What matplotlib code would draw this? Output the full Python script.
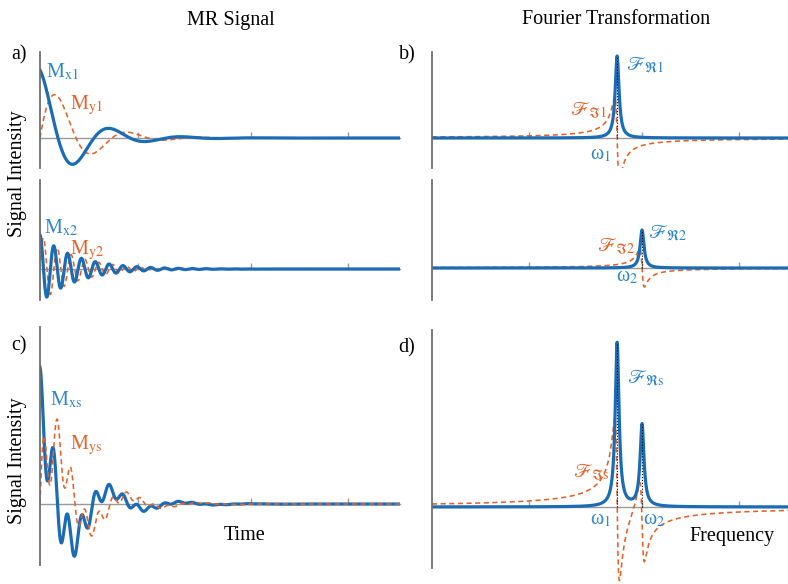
import matplotlib
matplotlib.use("Agg")
import matplotlib.pyplot as plt
import numpy as np

# Free induction decay parameters (time in units of T2)
amp = [1.0, 0.5]          # initial magnetisation of component 1 and 2
freq_t = [0.5, 2.6]       # precession frequency in the time panels
t2 = [1.0, 1.0]           # transverse relaxation time
t_max = 10.0

# Spectrum parameters (frequency axis 0..10)
nu0 = [5.2, 5.9]          # resonance positions omega_1, omega_2
width = [0.065, 0.065]    # half width at half maximum
nu_max = 10.0

time_ticks = [2.72, 5.86, 8.56]
freq_ticks = [2.72, 5.9, 8.62]

blue = "#1a6cb5"
blue_txt = "#2f86cc"
orange = "#e3622a"
grey_axis = "#6e6e6e"
grey_zero = "#9a9a9a"

plt.rcParams["font.family"] = ["Liberation Serif", "DejaVu Serif"]
plt.rcParams["mathtext.fontset"] = "stix"

W, H = 788, 584
fig = plt.figure(figsize=(W / 100, H / 100), dpi=100)


def box(x0, y0, x1, y1):
    return [x0 / W, 1 - y1 / H, (x1 - x0) / W, (y1 - y0) / H]


def style(ax, xlim, ylim, ticks, spine_bounds=None):
    ax.set_xlim(*xlim)
    ax.set_ylim(*ylim)
    for s in ["top", "right"]:
        ax.spines[s].set_visible(False)
    ax.spines["left"].set_color(grey_axis)
    ax.spines["left"].set_linewidth(1.3)
    if spine_bounds is not None:
        ax.spines["left"].set_bounds(*spine_bounds)
    ax.spines["bottom"].set_position(("data", 0))
    ax.spines["bottom"].set_color(grey_zero)
    ax.spines["bottom"].set_linewidth(1.0)
    ax.spines["bottom"].set_zorder(0.5)
    ax.set_yticks([])
    ax.set_xticks(ticks)
    ax.tick_params(axis="x", direction="in", length=4, width=1,
                   color=grey_zero, labelbottom=False)
    ax.patch.set_alpha(0)


t = np.linspace(0, t_max, 3000)
mx = [a * np.cos(2 * np.pi * f * t) * np.exp(-t / T) for a, f, T in zip(amp, freq_t, t2)]
my = [a * np.sin(2 * np.pi * f * t) * np.exp(-t / T) for a, f, T in zip(amp, freq_t, t2)]

nu = np.linspace(0, nu_max, 6000)
re = [a * g**2 / (g**2 + (nu - n0) ** 2) for a, g, n0 in zip(amp, width, nu0)]
im = [-a * g * (nu - n0) / (g**2 + (nu - n0) ** 2) for a, g, n0 in zip(amp, width, nu0)]

lw_b, lw_o = 2.3, 1.15
dash = (0, (3.2, 2.2))
fs = 14.5

# ---- time domain ----
ax_a = fig.add_axes(box(40, 52, 400, 168))
style(ax_a, (0, t_max), (-0.441, 1.265), time_ticks)
ax_a.plot(t, my[0], color=orange, lw=lw_o, ls=dash)
ax_a.plot(t, mx[0], color=blue, lw=lw_b)
ax_a.text(0.17, 0.97, r"M$_{\mathrm{x1}}$", color=blue_txt, fontsize=fs, va="center")
ax_a.text(0.83, 0.49, r"M$_{\mathrm{y1}}$", color=orange, fontsize=fs, va="center")

ax_a2 = fig.add_axes(box(40, 180, 400, 300))
style(ax_a2, (0, t_max), (-0.456, 1.309), time_ticks)
ax_a2.plot(t, my[1], color=orange, lw=lw_o, ls=dash)
ax_a2.plot(t, mx[1], color=blue, lw=lw_b)
ax_a2.text(0.11, 0.60, r"M$_{\mathrm{x2}}$", color=blue_txt, fontsize=fs, va="center")
ax_a2.text(0.83, 0.28, r"M$_{\mathrm{y2}}$", color=orange, fontsize=fs, va="center")

ax_c = fig.add_axes(box(40, 327, 400, 565))
style(ax_c, (0, t_max), (-0.668, 1.939), time_ticks)
ax_c.plot(t, mx[0] + mx[1], color=blue, lw=lw_b)
ax_c.plot(t, my[0] + my[1], color=orange, lw=lw_o, ls=dash)
ax_c.text(0.28, 1.14, r"M$_{\mathrm{xs}}$", color=blue_txt, fontsize=fs, va="center")
ax_c.text(0.83, 0.65, r"M$_{\mathrm{ys}}$", color=orange, fontsize=fs, va="center")

# ---- frequency domain ----
ax_b = fig.add_axes(box(432, 52, 788, 168))
style(ax_b, (0, nu_max), (-0.366, 1.049), freq_ticks)
ax_b.plot(nu, im[0], color=orange, lw=lw_o, ls=dash)
ax_b.plot(nu, re[0], color=blue, lw=lw_b)
ax_b.plot([nu0[0], nu0[0]], [0, amp[0]], color="black", lw=0.8, ls=":")
ax_b.text(5.45, 0.89, r"$\mathscr{F}_{\mathfrak{R}1}$", color=blue_txt, fontsize=fs, va="center")
ax_b.text(3.88, 0.34, r"$\mathscr{F}_{\mathfrak{I}1}$", color=orange, fontsize=fs, va="center")
ax_b.text(4.44, -0.21, r"ω$_1$", color=blue_txt, fontsize=fs, va="center")

ax_b2 = fig.add_axes(box(432, 180, 788, 300))
style(ax_b2, (0, nu_max), (-0.421, 1.158), freq_ticks)
ax_b2.plot(nu, im[1], color=orange, lw=lw_o, ls=dash)
ax_b2.plot(nu, re[1], color=blue, lw=lw_b)
ax_b2.plot([nu0[1], nu0[1]], [0, amp[1]], color="black", lw=0.8, ls=":")
ax_b2.text(6.07, 0.47, r"$\mathscr{F}_{\mathfrak{R}2}$", color=blue_txt, fontsize=fs, va="center")
ax_b2.text(4.63, 0.28, r"$\mathscr{F}_{\mathfrak{I}2}$", color=orange, fontsize=fs, va="center")
ax_b2.text(5.17, -0.12, r"ω$_2$", color=blue_txt, fontsize=fs, va="center")

ax_d = fig.add_axes(box(432, 330, 788, 584))
style(ax_d, (0, nu_max), (-0.47, 1.079), freq_ticks, spine_bounds=(-0.372, 1.079))
re_s = re[0] + re[1]
ax_d.plot(nu, im[0] + im[1], color=orange, lw=lw_o, ls=dash)
ax_d.plot(nu, re_s, color=blue, lw=lw_b)
for n0 in nu0:
    ax_d.plot([n0, n0], [0, np.interp(n0, nu, re_s)], color="black", lw=0.8, ls=":")
ax_d.text(5.48, 0.79, r"$\mathscr{F}_{\mathfrak{R}\mathrm{s}}$", color=blue_txt, fontsize=fs, va="center")
ax_d.text(3.96, 0.21, r"$\mathscr{F}_{\mathfrak{I}\mathrm{s}}$", color=orange, fontsize=fs, va="center")
ax_d.text(4.44, -0.08, r"ω$_1$", color=blue_txt, fontsize=fs, va="center")
ax_d.text(5.93, -0.08, r"ω$_2$", color=blue_txt, fontsize=fs, va="center")

# ---- titles and labels ----
def ftext(x, y, s, **kw):
    fig.text(x / W, 1 - y / H, s, ha="center", va="center", fontsize=fs, **kw)

ftext(231, 20, "MR Signal")
ftext(616, 20, "Fourier Transformation")
ftext(245, 536, "Time")
ftext(732, 537, "Frequency")
ftext(18, 174, "Signal Intensity", rotation=90)
ftext(18, 461, "Signal Intensity", rotation=90)
ftext(19, 55, "a)")
ftext(407, 55, "b)")
ftext(19, 346, "c)")
ftext(407, 348, "d)")

fig.savefig("out.png", dpi=100)
